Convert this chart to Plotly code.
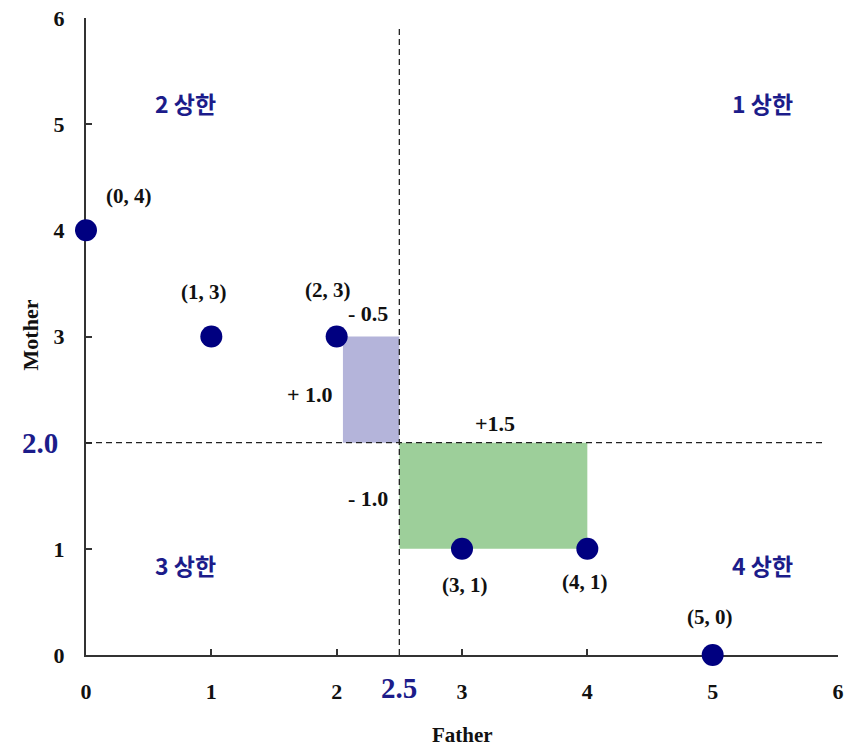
import plotly.graph_objects as go

# Data
father = [0, 1, 2, 3, 4, 5]
mother = [4, 3, 3, 1, 1, 0]
point_labels = ["(0, 4)", "(1, 3)", "(2, 3)", "(3, 1)", "(4, 1)", "(5, 0)"]
label_pos_x = [0.34, 0.94, 1.93, 3.02, 3.98, 4.98]
label_pos_y = [4.32, 3.42, 3.44, 0.66, 0.69, 0.36]
mean_x = 2.5
mean_y = 2.0
quad_labels = ["1 상한", "2 상한", "3 상한", "4 상한"]
quad_x = [5.4, 0.79, 0.79, 5.4]
quad_y = [5.2, 5.2, 0.85, 0.85]
dev_texts = ["- 0.5", "+ 1.0", "+1.5", "- 1.0"]
dev_x = [2.25, 1.79, 3.26, 2.25]
dev_y = [3.22, 2.45, 2.18, 1.47]
ticks = [0, 1, 2, 3, 4, 5, 6]

NAVY = "#000080"
QCOL = "#1c1c8a"
SERIF = "Liberation Serif"
DARK = "#111"

fig = go.Figure()

# rectangles (deviation products)
fig.add_shape(type="rect", x0=2.05, x1=mean_x, y0=mean_y, y1=3,
              fillcolor="#b4b4da", line_width=0, layer="below")
fig.add_shape(type="rect", x0=mean_x, x1=4, y0=1, y1=mean_y,
              fillcolor="#9dcf9a", line_width=0, layer="below")

# mean lines
fig.add_shape(type="line", x0=mean_x, x1=mean_x, y0=0, y1=5.9,
              line=dict(color="#222", width=1.3, dash="6px,4px"))
fig.add_shape(type="line", x0=0, x1=5.88, y0=mean_y, y1=mean_y,
              line=dict(color="#222", width=1.3, dash="6px,4px"))

fig.add_trace(go.Scatter(x=father, y=mother, mode="markers",
                         marker=dict(color=NAVY, size=22, symbol="circle"),
                         cliponaxis=False, showlegend=False))

for t, x, y in zip(point_labels, label_pos_x, label_pos_y):
    fig.add_annotation(x=x, y=y, text="<b>" + t + "</b>", showarrow=False,
                       font=dict(family=SERIF, size=21, color=DARK))
for t, x, y in zip(quad_labels, quad_x, quad_y):
    fig.add_annotation(x=x, y=y, text="<b>" + t + "</b>", showarrow=False,
                       font=dict(family="Noto Sans CJK KR", size=23, color=QCOL))
for t, x, y in zip(dev_texts, dev_x, dev_y):
    fig.add_annotation(x=x, y=y, text="<b>" + t + "</b>", showarrow=False,
                       font=dict(family=SERIF, size=22, color=DARK))

fig.add_annotation(x=mean_x, y=0, yref="y", text="<b>2.5</b>", showarrow=False,
                   yshift=-33, xanchor="center", yanchor="middle",
                   font=dict(family=SERIF, size=29, color=QCOL))
fig.add_annotation(x=0, xref="x", y=mean_y, text="<b>2.0</b>", showarrow=False,
                   xshift=-46, xanchor="center", yanchor="middle",
                   font=dict(family=SERIF, size=29, color=QCOL))

# axis titles
fig.add_annotation(x=3, xref="x", y=0, yref="paper", yshift=-80, text="<b>Father</b>",
                   xanchor="center", yanchor="middle",
                   showarrow=False, font=dict(family=SERIF, size=21, color=DARK))
fig.add_annotation(x=0, xref="paper", xshift=-56, y=3.01, yref="y", text="<b>Mother</b>",
                   xanchor="center", yanchor="middle",
                   textangle=-90, showarrow=False,
                   font=dict(family=SERIF, size=22, color=DARK))

axis_common = dict(range=[0, 6], tickvals=ticks, showgrid=False, zeroline=False,
                   showline=True, linecolor="#333", linewidth=2,
                   ticks="inside", ticklen=6, tickcolor="#333", tickwidth=1.5,
                   automargin=False, layer="below traces",
                   ticklabeloverflow="allow",
                   tickfont=dict(family=SERIF, size=22, color=DARK))

fig.update_xaxes(**axis_common, ticktext=[f"<b>{v}</b>" for v in ticks],
                 ticklabelstandoff=16)
fig.update_yaxes(**axis_common,
                 ticktext=[f"<b>{v}</b>" if v != 2 else "" for v in ticks],
                 ticklabelstandoff=15)

fig.update_layout(width=852, height=748, plot_bgcolor="white", paper_bgcolor="white",
                  margin=dict(l=86, r=14, t=18, b=93))

# remove the default page margin so the figure sits at the window origin
fig.write_html("out.html", config={"displayModeBar": False},
               post_script="document.body.style.margin='0';")
